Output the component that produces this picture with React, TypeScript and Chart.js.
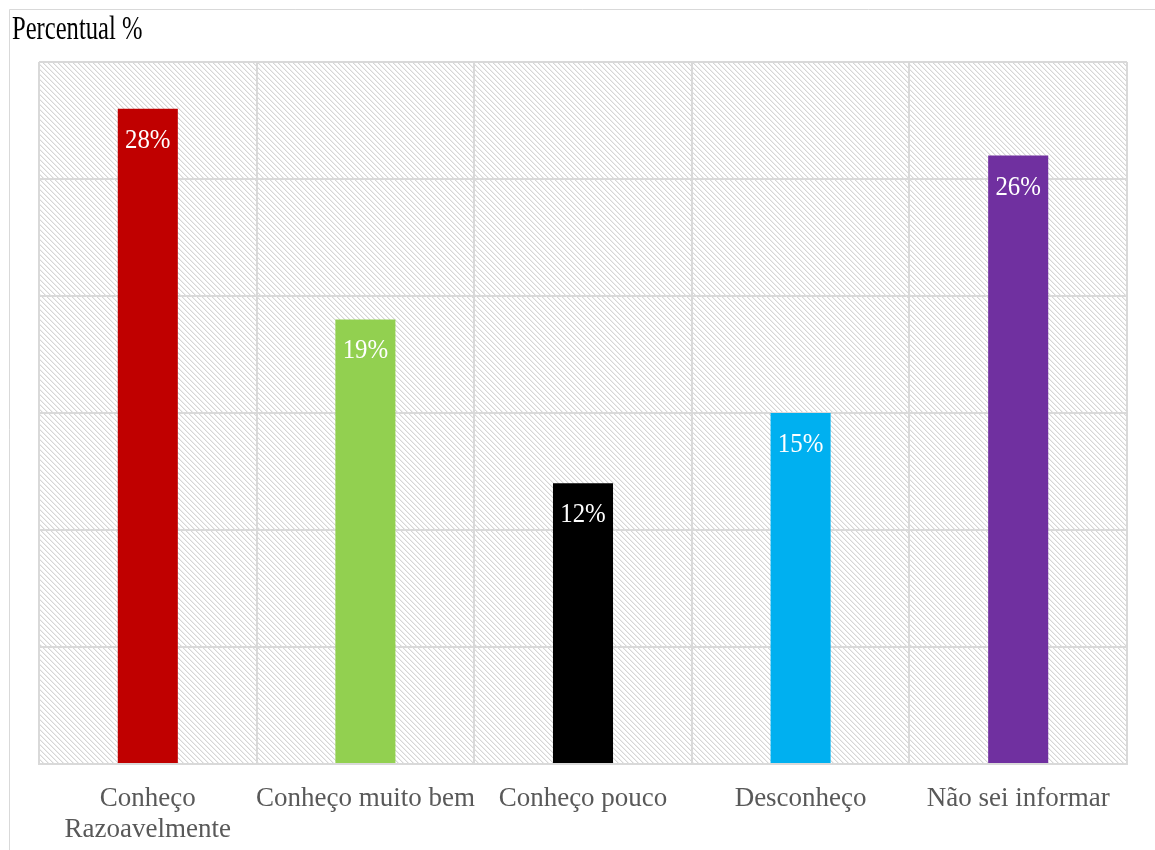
import React, { useEffect, useRef } from 'react';
import { Chart, registerables } from 'chart.js';
Chart.register(...registerables);

const categories: (string | string[])[] = [['Conheço', 'Razoavelmente'], 'Conheço muito bem', 'Conheço pouco', 'Desconheço', 'Não sei informar'];
const values = [28, 19, 12, 15, 26];
const valueLabels = ['28%', '19%', '12%', '15%', '26%'];
const barColors = ['#C00000', '#92D050', '#000000', '#00B0F0', '#7030A0'];
const chartTitle = 'Percentual %';
const yMax = 30;
const yStep = 5;

function makeHatch(ctx: CanvasRenderingContext2D): CanvasPattern | string {
  const c = document.createElement('canvas');
  c.width = 5;
  c.height = 5;
  const g = c.getContext('2d');
  if (!g) return '#fff';
  g.fillStyle = '#ffffff';
  g.fillRect(0, 0, 5, 5);
  for (let i = 0; i < 5; i++) {
    g.fillStyle = '#d6d6d6';
    g.fillRect(i, i, 1, 1);
    g.fillStyle = '#eeeeee';
    g.fillRect((i + 1) % 5, i, 1, 1);
  }
  return ctx.createPattern(c, 'repeat') || '#fff';
}

const decorPlugin = {
  id: 'decor',
  beforeDraw(chart: any) {
    const { ctx, chartArea, width, height } = chart;
    ctx.save();
    ctx.fillStyle = '#ffffff';
    ctx.fillRect(0, 0, width, height);
    ctx.strokeStyle = '#d9d9d9';
    ctx.lineWidth = 1;
    ctx.beginPath();
    ctx.moveTo(9.5, height);
    ctx.lineTo(9.5, 9.5);
    ctx.lineTo(width, 9.5);
    ctx.stroke();
    ctx.fillStyle = makeHatch(ctx);
    ctx.fillRect(chartArea.left, chartArea.top, chartArea.right - chartArea.left, chartArea.bottom - chartArea.top);
    ctx.restore();
  },
  afterDatasetsDraw(chart: any) {
    const { ctx } = chart;
    const meta = chart.getDatasetMeta(0);
    ctx.save();
    ctx.fillStyle = '#ffffff';
    ctx.font = '27px "Liberation Serif", "Times New Roman", serif';
    ctx.textAlign = 'center';
    ctx.textBaseline = 'alphabetic';
    meta.data.forEach((bar: any, i: number) => {
      ctx.save();
      ctx.translate(bar.x, bar.y + 39);
      ctx.scale(0.92, 1);
      ctx.fillText(valueLabels[i], 0, 0);
      ctx.restore();
    });
    ctx.restore();
  },
  afterDraw(chart: any) {
    const { ctx } = chart;
    ctx.save();
    ctx.fillStyle = '#000000';
    ctx.font = '33px "Liberation Serif", "Times New Roman", serif';
    ctx.textAlign = 'left';
    ctx.textBaseline = 'alphabetic';
    ctx.translate(12, 39);
    ctx.scale(0.745, 1);
    ctx.fillText(chartTitle, 0, 0);
    ctx.restore();
  },
};

export default function App() {
  const ref = useRef<HTMLCanvasElement>(null);
  useEffect(() => {
    if (!ref.current) return;
    const chart = new Chart(ref.current, {
      type: 'bar',
      data: {
        labels: categories,
        datasets: [
          {
            data: values,
            backgroundColor: barColors,
            borderWidth: 0,
            barPercentage: 0.276,
            categoryPercentage: 1,
          },
        ],
      },
      options: {
        responsive: false,
        animation: false,
        devicePixelRatio: 1,
        layout: { padding: { left: 39, top: 62, right: 28, bottom: 0 } },
        plugins: { legend: { display: false }, tooltip: { enabled: false }, title: { display: false } },
        scales: {
          x: {
            grid: { color: '#d9d9d9', lineWidth: 2, drawTicks: false, offset: true },
            border: { display: true, color: '#d9d9d9', width: 2 },
            ticks: {
              color: '#595959',
              font: { family: '"Liberation Serif", "Times New Roman", serif', size: 27, lineHeight: 1.15 },
              padding: 19,
              autoSkip: false,
              maxRotation: 0,
              minRotation: 0,
            },
            afterFit(scale: any) {
              scale.height = 86;
            },
          },
          y: {
            min: 0,
            max: yMax,
            ticks: { display: false, stepSize: yStep },
            grid: { color: '#d9d9d9', lineWidth: 2, drawTicks: false },
            border: { display: false },
            afterFit(scale: any) {
              scale.width = 0;
            },
          },
        },
      },
      plugins: [decorPlugin],
    });
    return () => chart.destroy();
  }, []);
  return (
    <div style={{ position: 'fixed', left: 0, top: 0, width: 1155, height: 850, background: '#fff' }}>
      <canvas ref={ref} width={1155} height={850} />
    </div>
  );
}
